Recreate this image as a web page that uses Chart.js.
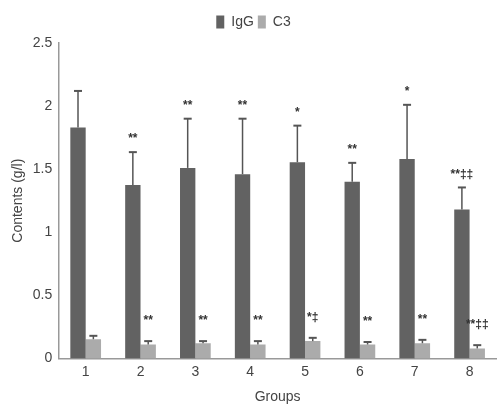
<!DOCTYPE html>
<html>
<head>
<meta charset="utf-8">
<script src="https://cdn.jsdelivr.net/npm/chart.js@4/dist/chart.umd.min.js"></script>
<style>
  body { margin: 0; background: #fff; }
  #wrap { width: 497px; height: 406px; }
</style>
</head>
<body>
<div id="wrap"><canvas id="chart" width="497" height="406"></canvas></div>
<script>
const groups = ["1", "2", "3", "4", "5", "6", "7", "8"];
const iggValues = [1.83, 1.375, 1.51, 1.46, 1.555, 1.40, 1.58, 1.18];
const iggErrors = [0.29, 0.26, 0.39, 0.44, 0.29, 0.15, 0.43, 0.175];
const iggMarks = ["", "**", "**", "**", "*", "**", "*", "**\u2021\u2021"];
const c3Values = [0.152, 0.11, 0.121, 0.11, 0.137, 0.11, 0.12, 0.079];
const c3Errors = [0.027, 0.027, 0.016, 0.027, 0.026, 0.02, 0.027, 0.026];
const c3Marks = ["", "**", "**", "**", "*\u2021", "**", "**", "**\u2021\u2021"];
const yTicks = [0, 0.5, 1, 1.5, 2, 2.5];

const fontFamily = "'Liberation Sans', Arial, sans-serif";

// extra room under the legend
const legendSpacing = {
    id: "legendSpacing",
    beforeInit(chart) {
        const fit = chart.legend.fit;
        chart.legend.fit = function () {
            fit.bind(chart.legend)();
            this.height += 4;
        };
    }
};

// draws upper whiskers and significance marks on top of the bars
const errorBarPlugin = {
    id: "errorBars",
    afterDatasetsDraw(chart) {
        const ctx = chart.ctx;
        const yScale = chart.scales.y;
        const sets = [
            { errors: iggErrors, marks: iggMarks, gap: 13 },
            { errors: c3Errors, marks: c3Marks, gap: 20 }
        ];
        ctx.save();
        sets.forEach((s, di) => {
            const meta = chart.getDatasetMeta(di);
            const values = chart.data.datasets[di].data;
            meta.data.forEach((bar, i) => {
                const top = yScale.getPixelForValue(values[i] + s.errors[i]);
                ctx.strokeStyle = "#555";
                ctx.lineWidth = 1.5;
                ctx.beginPath();
                ctx.moveTo(bar.x, bar.y);
                ctx.lineTo(bar.x, top);
                ctx.stroke();
                ctx.lineWidth = 2;
                ctx.beginPath();
                ctx.moveTo(bar.x - 4, top);
                ctx.lineTo(bar.x + 4, top);
                ctx.stroke();
                if (s.marks[i]) {
                    ctx.fillStyle = "#333";
                    ctx.font = "bold 12px " + fontFamily;
                    ctx.textAlign = "center";
                    ctx.textBaseline = "middle";
                    ctx.fillText(s.marks[i], bar.x, top - s.gap);
                }
            });
        });
        ctx.restore();
    }
};

new Chart(document.getElementById("chart"), {
    type: "bar",
    data: {
        labels: groups,
        datasets: [
            {
                label: "IgG",
                data: iggValues,
                backgroundColor: "#626262",
                categoryPercentage: 0.56,
                barPercentage: 1.0
            },
            {
                label: "C3",
                data: c3Values,
                backgroundColor: "#ababab",
                categoryPercentage: 0.56,
                barPercentage: 1.0
            }
        ]
    },
    options: {
        responsive: false,
        animation: false,
        layout: { padding: { left: 10, right: 0, top: 11, bottom: 0 } },
        plugins: {
            legend: {
                position: "top",
                labels: {
                    boxWidth: 8,
                    boxHeight: 13,
                    padding: 4,
                    color: "#444",
                    font: { family: fontFamily, size: 14 }
                }
            },
            tooltip: { enabled: false }
        },
        scales: {
            x: {
                grid: { display: false, drawTicks: false },
                border: { color: "#999", width: 1.5 },
                ticks: { color: "#444", padding: 5, font: { family: fontFamily, size: 14 } },
                title: {
                    display: true,
                    text: "Groups",
                    color: "#444",
                    padding: { top: 4, bottom: 0 },
                    font: { family: fontFamily, size: 14 }
                }
            },
            y: {
                min: 0,
                max: 2.5,
                afterBuildTicks(axis) {
                    axis.ticks = yTicks.map(v => ({ value: v }));
                },
                grid: { display: false, drawTicks: true, tickLength: 4, tickColor: "#999" },
                border: { color: "#999", width: 1.5 },
                ticks: {
                    color: "#444",
                    padding: 2,
                    font: { family: fontFamily, size: 14 },
                    callback: v => String(v)
                },
                title: {
                    display: true,
                    text: "Contents (g/l)",
                    color: "#444",
                    padding: { top: 0, bottom: 4 },
                    font: { family: fontFamily, size: 14 }
                }
            }
        }
    },
    plugins: [legendSpacing, errorBarPlugin]
});
</script>
</body>
</html>
